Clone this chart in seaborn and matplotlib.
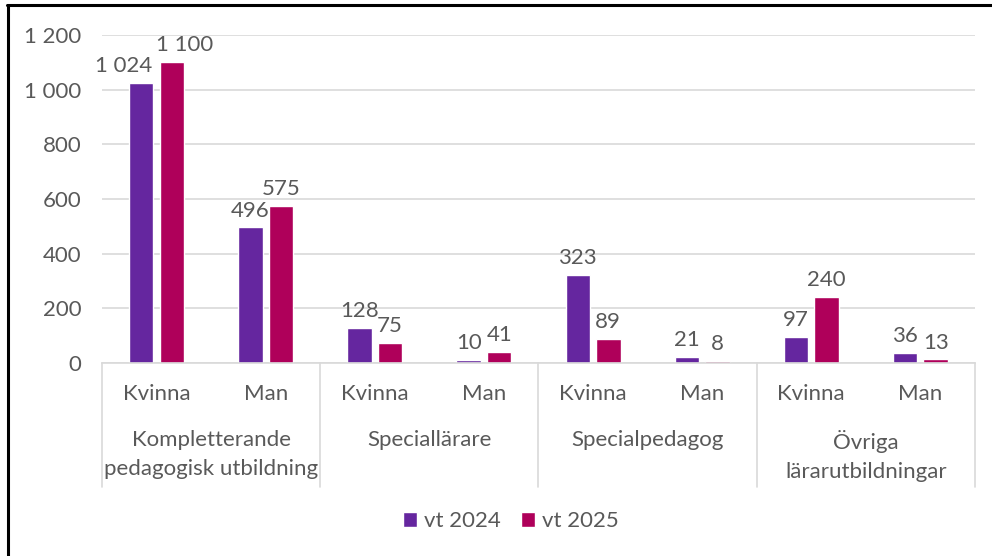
import matplotlib
matplotlib.use("Agg")
import matplotlib.pyplot as plt
import seaborn as sns
import pandas as pd
from matplotlib.lines import Line2D

# data
groups = ["Kompletterande\npedagogisk utbildning", "Speciallärare",
          "Specialpedagog", "Övriga\nlärarutbildningar"]
sexes = ["Kvinna", "Man"]
vt2024 = [1024, 496, 128, 10, 323, 21, 97, 36]
vt2025 = [1100, 575, 75, 41, 89, 8, 240, 13]
years = ["vt 2024", "vt 2025"]
colors = ["#65269F", "#AF005A"]

slots = [f"{g}|{s}" for g in groups for s in sexes]
df = pd.DataFrame({
    "slot": slots * 2,
    "År": [years[0]] * len(slots) + [years[1]] * len(slots),
    "Antal": vt2024 + vt2025,
})

sns.set_theme(style="white")
plt.rcParams["font.family"] = ["Lato", "DejaVu Sans"]
grey = "#595959"
fs = 16

fig = plt.figure(figsize=(9.92, 5.56), dpi=100)
ax = fig.add_axes([0.1028, 0.3471, 0.8800, 0.5899])

sns.barplot(data=df, x="slot", y="Antal", hue="År", palette=colors,
            saturation=1, width=0.56, gap=0.2, order=slots, ax=ax, legend=True)

def fmt(v):
    return f"{int(round(v)):,}".replace(",", " ")

for k, c in enumerate(ax.containers):
    anns = ax.bar_label(c, labels=[fmt(b.get_height()) for b in c], padding=5,
                        fontsize=fs, color=grey)
    # Excel nudges the two overlapping labels apart
    anns[0].xyann = (-13 if k == 0 else 9, anns[0].xyann[1])

ax.set_ylim(0, 1200)
ax.set_xlim(-0.5, len(slots) - 0.5)
ax.set_yticks(range(0, 1201, 200))
ax.set_yticklabels([fmt(v) for v in range(0, 1201, 200)], fontsize=fs, color=grey)
ax.tick_params(axis="y", length=0, pad=15)
ax.yaxis.grid(True, color="#D9D9D9", lw=1.2)
ax.set_axisbelow(True)
for s in ["top", "right", "left"]:
    ax.spines[s].set_visible(False)
ax.spines["bottom"].set_color("#D9D9D9")
ax.spines["bottom"].set_linewidth(1.2)

ax.set_xticks(range(len(slots)))
ax.set_xticklabels(sexes * len(groups), fontsize=fs, color=grey)
ax.tick_params(axis="x", length=0, pad=15)
ax.set_xlabel("")
ax.set_ylabel("")

# group labels and separators
for i, g in enumerate(groups):
    ax.text(2 * i + 0.5, -0.205, g, transform=ax.get_xaxis_transform(),
            ha="center", va="top", fontsize=fs, color=grey, linespacing=1.55)
for i in range(len(groups) + 1):
    ax.add_line(Line2D([2 * i - 0.5, 2 * i - 0.5], [0, -0.378],
                       transform=ax.get_xaxis_transform(), color="#D9D9D9",
                       lw=1.2, clip_on=False))

leg = ax.legend(loc="center", bbox_to_anchor=(0.515, 0.063),
                bbox_transform=fig.transFigure, ncol=2, frameon=False,
                fontsize=fs, handlelength=0.65, handleheight=0.65,
                handletextpad=0.3, columnspacing=0.9)
for t in leg.get_texts():
    t.set_color(grey)

# outer frame
fig.add_artist(Line2D([0.0085, 0.0085], [0, 0.991], color="black", lw=2.2,
                      transform=fig.transFigure))
fig.add_artist(Line2D([0.0075, 1.0], [0.991, 0.991], color="black", lw=2.2,
                      transform=fig.transFigure))

fig.savefig("out.png", dpi=100)
